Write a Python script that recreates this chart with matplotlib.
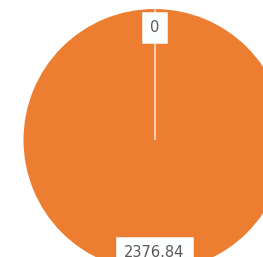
import matplotlib
matplotlib.use("Agg")
import matplotlib.pyplot as plt
import numpy as np

categories = ["A", "B"]
values = [0, 2376.84]
labels = ["0", "2376.84"]
colors = ["#ED7D31", "#ED7D31"]

W, H = 263, 257
fig = plt.figure(figsize=(W / 100, H / 100), dpi=100)
ax = fig.add_axes([0, 0, 1, 1])

cx, cy, r = 154.5, H - 140, 131
wedges, texts = ax.pie(values, labels=labels, colors=colors, startangle=90,
                       counterclock=False, center=(cx, cy), radius=r,
                       labeldistance=0.86, frame=True,
                       wedgeprops=dict(linewidth=0))
ax.set_xlim(0, W)
ax.set_ylim(0, H)
ax.set_aspect("equal")
ax.axis("off")

# separator line for zero-size slice
w0 = wedges[0]
th = np.deg2rad(w0.theta1)
ax.plot([w0.center[0], w0.center[0] + w0.r * np.cos(th)],
        [w0.center[1], w0.center[1] + w0.r * np.sin(th)],
        color="#fad7ba", linewidth=1.3, zorder=2, solid_capstyle="butt")

for t in texts:
    t.set_ha("center")
    t.set_va("center")
    t.set_fontsize(10.5)
    t.set_color("#595959")
    t.set_zorder(5)
    t.set_bbox(dict(boxstyle="square,pad=0.55", facecolor="#fdfefe", edgecolor="#eeeeee", linewidth=0.5))

fig.savefig("out.png", dpi=100)
